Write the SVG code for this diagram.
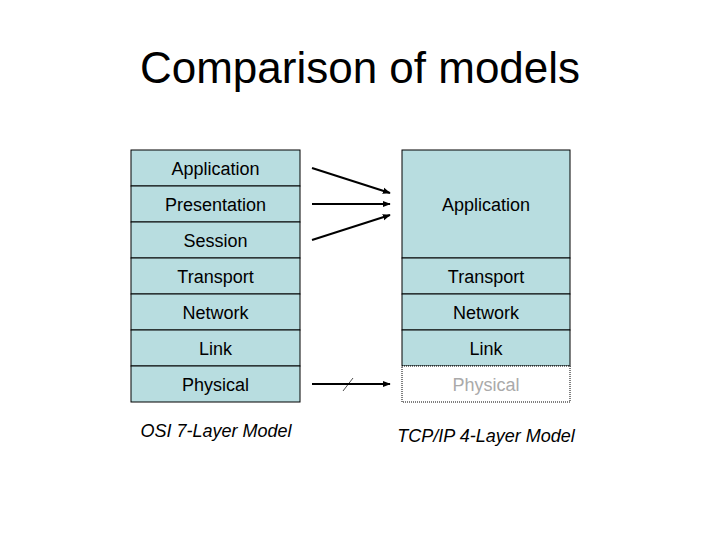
<svg xmlns="http://www.w3.org/2000/svg" width="720" height="540" viewBox="0 0 720 540">
<style>
.b{fill:#b8dde0;stroke:#000;stroke-width:1}
.t{font-family:"Liberation Sans",Arial,sans-serif;font-size:18px;text-anchor:middle;fill:#000}
.c{stroke:#000;stroke-width:2;fill:none}
</style>
<defs><marker id="a" viewBox="0 0 10 10" refX="9" refY="5" markerWidth="4" markerHeight="4" orient="auto"><path d="M0,1L10,5L0,9z" fill="#000"/></marker></defs>
<rect width="720" height="540" fill="#fff"/>
<text x="360" y="83" style="font-family:'Liberation Sans',Arial,sans-serif;font-size:44px;text-anchor:middle">Comparison of models</text>
<g id="osi">
<rect class="b" x="131" y="150" width="169" height="36"/><text class="t" x="215.5" y="175">Application</text>
<rect class="b" x="131" y="186" width="169" height="36"/><text class="t" x="215.5" y="211">Presentation</text>
<rect class="b" x="131" y="222" width="169" height="36"/><text class="t" x="215.5" y="247">Session</text>
<rect class="b" x="131" y="258" width="169" height="36"/><text class="t" x="215.5" y="283">Transport</text>
<rect class="b" x="131" y="294" width="169" height="36"/><text class="t" x="215.5" y="319">Network</text>
<rect class="b" x="131" y="330" width="169" height="36"/><text class="t" x="215.5" y="355">Link</text>
<rect class="b" x="131" y="366" width="169" height="36"/><text class="t" x="215.5" y="391">Physical</text>
<text class="t" x="216" y="437" font-style="italic">OSI 7-Layer Model</text>
</g>
<g id="tcp">
<rect class="b" x="402" y="150" width="168" height="108"/><text class="t" x="486" y="211">Application</text>
<rect class="b" x="402" y="258" width="168" height="36"/><text class="t" x="486" y="283">Transport</text>
<rect class="b" x="402" y="294" width="168" height="36"/><text class="t" x="486" y="319">Network</text>
<rect class="b" x="402" y="330" width="168" height="36"/><text class="t" x="486" y="355">Link</text>
<rect x="402" y="366" width="168" height="36" fill="#fff" stroke="#000" stroke-dasharray="1,1"/><text class="t" x="486" y="391" style="fill:#aaa">Physical</text>
<text class="t" x="486" y="442" font-style="italic">TCP/IP 4-Layer Model</text>
</g>
<g id="connectors">
<line class="c" x1="312" y1="168" x2="390" y2="193" marker-end="url(#a)"/>
<line class="c" x1="312" y1="204" x2="390" y2="204" marker-end="url(#a)"/>
<line class="c" x1="312" y1="240" x2="390" y2="215" marker-end="url(#a)"/>
<line class="c" x1="312" y1="384" x2="390" y2="384" marker-end="url(#a)"/>
<line x1="343" y1="391" x2="353" y2="378" stroke="#000" stroke-width="0.7"/>
</g>
</svg>
